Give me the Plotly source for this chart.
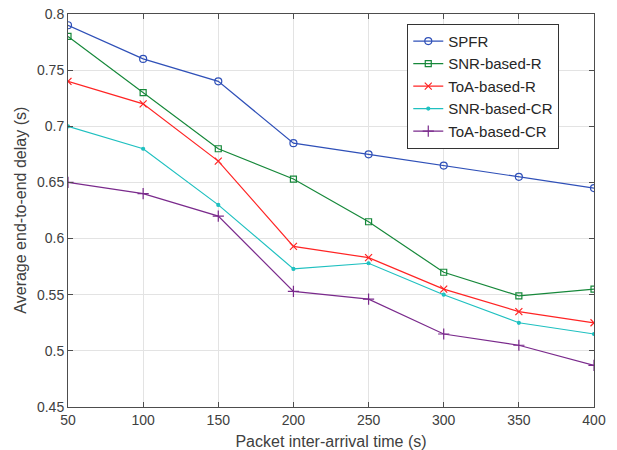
import plotly.graph_objects as go

x = [50, 100, 150, 200, 250, 300, 350, 400]
spfr = [0.79, 0.76, 0.74, 0.685, 0.675, 0.665, 0.655, 0.645]
snr_r = [0.78, 0.73, 0.68, 0.653, 0.615, 0.57, 0.549, 0.555]
toa_r = [0.74, 0.72, 0.669, 0.593, 0.583, 0.555, 0.535, 0.525]
snr_cr = [0.70, 0.68, 0.63, 0.573, 0.578, 0.55, 0.525, 0.515]
toa_cr = [0.65, 0.64, 0.62, 0.553, 0.546, 0.515, 0.505, 0.487]

names = ["SPFR", "SNR-based-R", "ToA-based-R", "SNR-based-CR", "ToA-based-CR"]
series = [spfr, snr_r, toa_r, snr_cr, toa_cr]
colors = ["#2f50b8", "#16883a", "#ff2424", "#1fc0c0", "#7a2a8c"]
symbols = ["circle-open", "square-open", "x-thin-open", "circle", "cross-thin-open"]
sizes = [7, 6, 7, 3, 8]

fig = go.Figure()
for n, y, c, s, sz in zip(names, series, colors, symbols, sizes):
    fig.add_trace(go.Scatter(
        x=x, y=y, name=n, mode="lines+markers",
        line=dict(color=c, width=1.2),
        marker=dict(symbol=s, size=sz, color=c, line=dict(color=c, width=1.2)),
    ))

axis_common = dict(
    showline=True, linecolor="#4d4d4d", linewidth=1, mirror="ticks",
    ticks="inside", ticklen=5, tickcolor="#4d4d4d",
    showgrid=True, gridcolor="#e3e3e3", gridwidth=1, zeroline=False,
    automargin=False,
    tickfont=dict(family="Liberation Sans, Arial", size=14, color="#404040"),
)

fig.update_layout(
    width=617, height=450,
    margin=dict(l=68, r=23, t=14, b=43),
    plot_bgcolor="white", paper_bgcolor="white",
    font=dict(family="Liberation Sans, Arial", size=16, color="#404040"),
    xaxis=dict(range=[50, 400], dtick=50, tick0=50,
               title=dict(text="Packet inter-arrival time (s)",
                          font=dict(size=16, color="#404040")),
               **axis_common),
    yaxis=dict(range=[0.45, 0.8], dtick=0.05, tick0=0.45, **axis_common),
    legend=dict(x=0.645, y=0.975, xanchor="left", yanchor="top",
                bgcolor="white", bordercolor="#333333", borderwidth=1,
                font=dict(family="Liberation Sans, Arial", size=15, color="#262626"),
                tracegroupgap=0, itemwidth=30),
    annotations=[dict(text="Average end-to-end delay (s)", textangle=-90,
                      xref="paper", yref="paper", x=-0.091, y=0.5,
                      xanchor="center", yanchor="middle", showarrow=False,
                      font=dict(size=16, color="#404040"))],
)

fig.write_html("out.html")
